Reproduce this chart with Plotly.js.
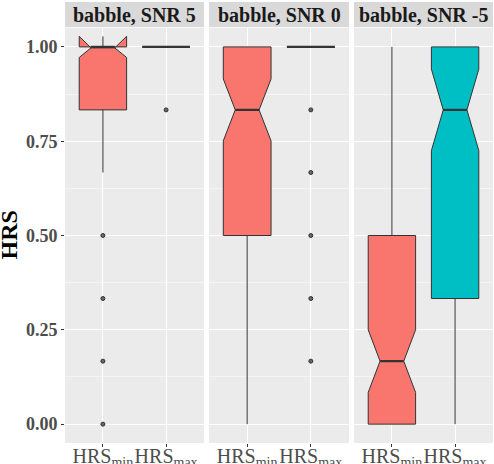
<!DOCTYPE html>
<html>
<head>
<meta charset="utf-8">
<script src="https://cdn.plot.ly/plotly-3.0.1.min.js"></script>
<style>
  html, body { margin: 0; padding: 0; background: #fff; }
  #plot { width: 494px; height: 464px; }
</style>
</head>
<body>
<div id="plot"></div>
<script>
const facets = ['babble, SNR 5', 'babble, SNR 0', 'babble, SNR -5'];
const groups = ['HRS_min', 'HRS_max'];
const groupLabels = ['HRS<sub>min</sub>', 'HRS<sub>max</sub>'];

// HRS_min box stats per facet
const minQ1 = [0.833, 0.5, 0];
const minMed = [1, 0.833, 0.167];
const minQ3 = [1, 1, 0.5];
const minLow = [0.667, 0, 0];
const minHigh = [1, 1, 1];
const minNotch = [0.028, 0.082, 0.083];
const minOutliers = [[0.5, 0.333, 0.167, 0], [], []];

// HRS_max box stats per facet
const maxQ1 = [1, 1, 0.333];
const maxMed = [1, 1, 0.833];
const maxQ3 = [1, 1, 1];
const maxLow = [1, 1, 0];
const maxHigh = [1, 1, 1];
const maxNotch = [0, 0, 0.108];
const maxOutliers = [[0.833], [0.833, 0.667, 0.5, 0.333, 0.167], []];

const yTicks = [0, 0.25, 0.5, 0.75, 1];
const yTickText = ['0.00', '0.25', '0.50', '0.75', '1.00'];

const fills = ['#F8766D', '#00BFC4'];
const domains = [[0, 0.3248], [0.3364, 0.6636], [0.6752, 1]];
const boxWidth = 0.75;

const stats = [
  { q1: minQ1, med: minMed, q3: minQ3, lo: minLow, hi: minHigh, notch: minNotch, out: minOutliers },
  { q1: maxQ1, med: maxMed, q3: maxQ3, lo: maxLow, hi: maxHigh, notch: maxNotch, out: maxOutliers },
];

const traces = [];
const medianShapes = [];
facets.forEach((f, i) => {
  const ax = i === 0 ? '' : String(i + 1);
  stats.forEach((s, g) => {
    traces.push({
      type: 'box',
      xaxis: 'x' + ax,
      yaxis: 'y' + ax,
      x: [groups[g]],
      q1: [s.q1[i]],
      median: [s.med[i]],
      q3: [s.q3[i]],
      lowerfence: [s.lo[i]],
      upperfence: [s.hi[i]],
      notchspan: [s.notch[i]],
      notched: true,
      notchwidth: 0.25,
      whiskerwidth: 0,
      width: boxWidth,
      boxpoints: false,
      fillcolor: fills[g],
      line: { color: '#333333', width: 1 },
      hoverinfo: 'skip',
    });
    // outliers
    traces.push({
      type: 'scatter',
      mode: 'markers',
      xaxis: 'x' + ax,
      yaxis: 'y' + ax,
      x: s.out[i].map(() => groups[g]),
      y: s.out[i],
      marker: { size: 4, color: '#666666', line: { color: '#333333', width: 1 } },
      hoverinfo: 'skip',
    });
    // thicker median bar (ggplot fatten)
    const half = s.notch[i] > 0 ? boxWidth / 4 : boxWidth / 2;
    medianShapes.push({
      type: 'line', xref: 'x' + ax, yref: 'y' + ax,
      x0: g - half, x1: g + half, y0: s.med[i], y1: s.med[i],
      line: { color: '#333333', width: 2.2 },
    });
  });
});

const layout = {
  width: 494,
  height: 464,
  showlegend: false,
  paper_bgcolor: '#ffffff',
  plot_bgcolor: '#EBEBEB',
  margin: { l: 65, r: 1, t: 2, b: 21 },
  font: { family: 'Liberation Serif, Times New Roman, serif' },
  shapes: [],
  annotations: [],
};

facets.forEach((f, i) => {
  const ax = i === 0 ? '' : String(i + 1);
  layout['xaxis' + ax] = {
    domain: domains[i],
    anchor: 'y' + ax,
    type: 'category',
    categoryorder: 'array',
    categoryarray: groups,
    range: [-0.6, 1.6],
    tickvals: groups,
    ticktext: groupLabels,
    tickangle: 0,
    ticklabelstandoff: -8,
    tickfont: { size: 20, color: '#4D4D4D' },
    ticks: 'outside',
    ticklen: 3,
    tickcolor: '#333333',
    showgrid: true,
    gridcolor: '#ffffff',
    gridwidth: 1.1,
    zeroline: false,
    showline: false,
    fixedrange: true,
  };
  layout['yaxis' + ax] = {
    domain: [0, 0.941],
    anchor: 'x' + ax,
    range: [-0.05, 1.05],
    tickvals: yTicks,
    ticktext: yTickText,
    showticklabels: i === 0,
    tickfont: { size: 18, color: '#4D4D4D', weight: 'bold' },
    ticks: i === 0 ? 'outside' : '',
    ticklen: 3,
    tickcolor: '#333333',
    showgrid: true,
    gridcolor: '#ffffff',
    gridwidth: 1.1,
    minor: { dtick: 0.125, tick0: 0, showgrid: true, gridcolor: '#ffffff', gridwidth: 0.5, ticks: '' },
    zeroline: false,
    showline: false,
    fixedrange: true,
  };
  // facet strip
  layout.shapes.push({
    type: 'rect', xref: 'paper', yref: 'paper',
    x0: domains[i][0], x1: domains[i][1], y0: 0.943, y1: 1,
    fillcolor: '#D9D9D9', line: { width: 0 }, layer: 'below',
  });
  layout.annotations.push({
    xref: 'paper', yref: 'paper',
    x: (domains[i][0] + domains[i][1]) / 2, y: 0.9715,
    xanchor: 'center', yanchor: 'middle',
    text: f, showarrow: false,
    font: { size: 20, color: '#1A1A1A', weight: 'bold' },
  });
});
layout.shapes = layout.shapes.concat(medianShapes);

// y axis title, placed at the left edge like ggplot
layout.annotations.push({
  xref: 'paper', yref: 'paper',
  x: 0, xshift: -56, y: 0.4705,
  xanchor: 'center', yanchor: 'middle',
  textangle: -90,
  text: 'HRS', showarrow: false,
  font: { size: 24, color: '#000000', weight: 'bold' },
});

Plotly.newPlot('plot', traces, layout, { displayModeBar: false, staticPlot: true });
</script>
</body>
</html>
